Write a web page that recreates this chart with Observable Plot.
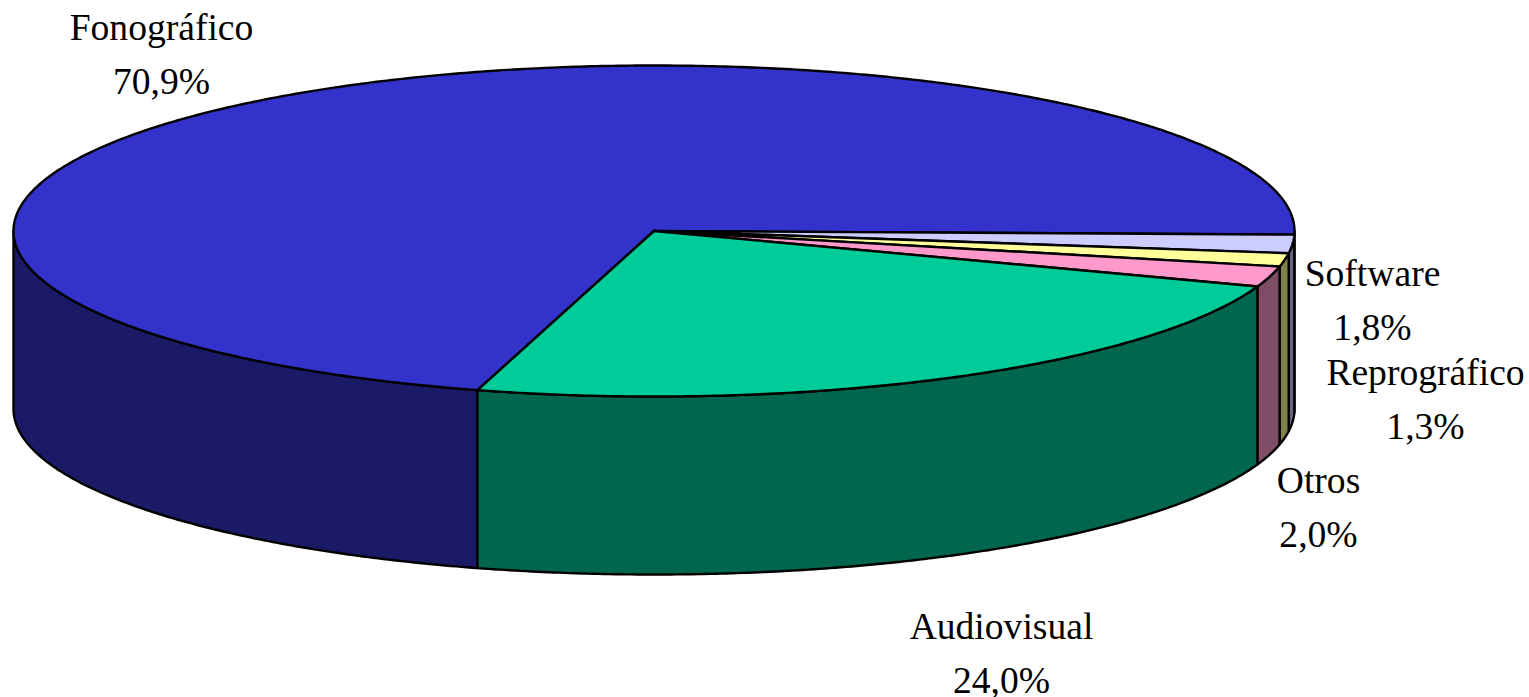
<!DOCTYPE html>
<html>
<head>
<meta charset="utf-8">
<script src="https://cdn.jsdelivr.net/npm/d3@7"></script>
<script src="https://cdn.jsdelivr.net/npm/@observablehq/plot@0.6"></script>
<style>
html,body{margin:0;padding:0;background:#fff;overflow:hidden}
svg{display:block}
</style>
</head>
<body>
<div id="chart"></div>
<script>
const categories = ["Fonográfico", "Software", "Reprográfico", "Otros", "Audiovisual"];
const shares = [70.9, 1.8, 1.3, 2.0, 24.0];
const shareLabels = ["70,9%", "1,8%", "1,3%", "2,0%", "24,0%"];
const topColors = ["#3333CC", "#CCCCFF", "#FFFF99", "#FF99CC", "#00CC99"];
const sideColors = ["#1A1A66", "#666680", "#80804D", "#804D66", "#00664D"];

// Presentation: pie geometry (unit ellipse, angles clockwise on screen from east)
const boundaryDeg = 106;     // Audiovisual / Fonográfico boundary
const depth = 1.0755;        // wall height in units of the y radius
const labelPlace = [[161, 1], [1372, 247], [1425, 346], [1318, 454], [1001, 600]];

const rad = d => d * Math.PI / 180;
const total = d3.sum(shares);
// walk the slices clockwise on screen from the boundary
let a = boundaryDeg;
const slices = categories.map((name, i) => {
  const a0 = a, a1 = a + shares[i] / total * 360;
  a = a1;
  return {name, a0, a1, i};
});
const arc = (a0, a1, dz = 0) => {
  const n = Math.max(2, Math.ceil((a1 - a0) / 0.5));
  return d3.range(n + 1).map(k => {
    const t = rad(a0 + (a1 - a0) * k / n);
    return {x: Math.cos(t), y: Math.sin(t) + dz};
  });
};
const polys = [];
const add = (id, fill, pts) => {
  pts.concat(pts[0]).forEach(p => polys.push({...p, id, fill}));
};
// walls: only the parts facing the viewer (lower half of the ellipse)
slices.forEach(s => {
  [[s.a0, s.a1], [s.a0 - 360, s.a1 - 360]].forEach(([u, v], j) => {
    const lo = Math.max(u, 0), hi = Math.min(v, 180);
    if (hi > lo) add(`wall${s.i}-${j}`, sideColors[s.i],
      arc(lo, hi).concat(arc(lo, hi, depth).reverse()));
  });
});
// top faces
slices.forEach(s => add(`top${s.i}`, topColors[s.i], [{x: 0, y: 0}, ...arc(s.a0, s.a1)]));

const labels = categories.map((c, i) => ({text: `${c}\n${shareLabels[i]}`, place: labelPlace[i]}));

const plot = Plot.plot({
  width: 1529,
  height: 697,
  margin: 0,
  x: {domain: [-1, 1], range: [13, 1294], axis: null},
  y: {domain: [-1, 1], range: [65, 396], axis: null},
  color: {type: "identity"},
  marks: [
    Plot.line(polys, {
      x: "x", y: "y", z: "id", fill: "fill",
      stroke: "#000", strokeWidth: 2.4, strokeLinejoin: "round", curve: "linear"
    }),
    ...labels.map(l => Plot.text([l.text], {
      text: d => d,
      frameAnchor: "top-left",
      dx: l.place[0], dy: l.place[1],
      textAnchor: "middle",
      lineHeight: 1.436,
      fontFamily: "Liberation Serif",
      fontSize: 37.6,
      fill: "#000"
    }))
  ]
});
document.getElementById("chart").appendChild(plot);
</script>
</body>
</html>
